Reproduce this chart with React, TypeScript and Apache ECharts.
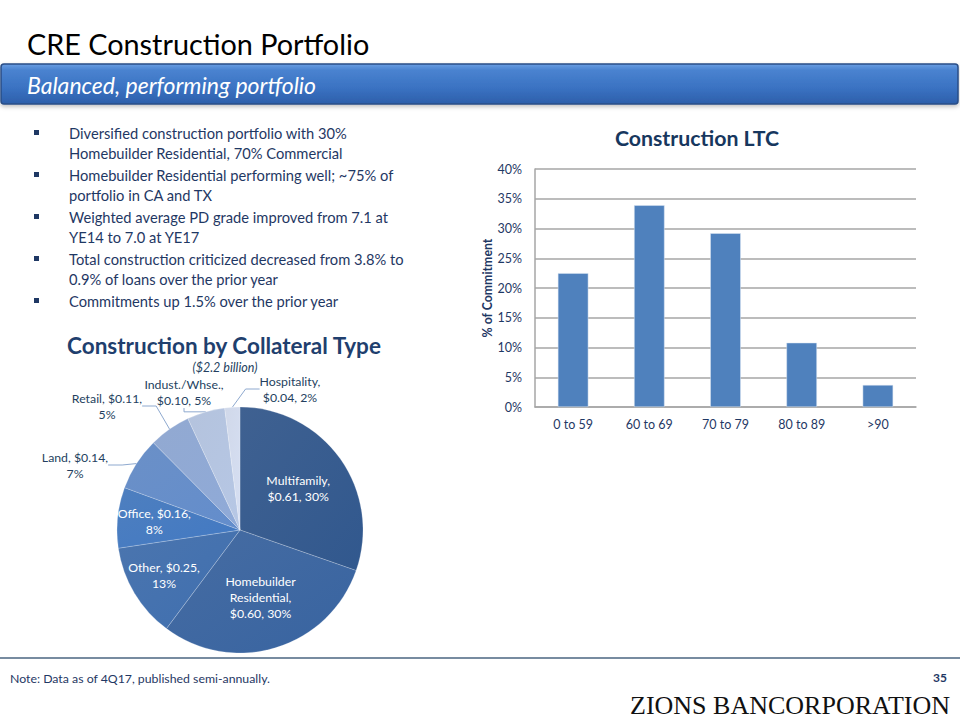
import React, { useEffect, useRef } from "react";
import * as echarts from "echarts";

const pageTitle = "CRE Construction Portfolio";
const bannerText = "Balanced, performing portfolio";
const bullets = [
  ["Diversified construction portfolio with 30%", "Homebuilder Residential, 70% Commercial"],
  ["Homebuilder Residential performing well; ~75% of", "portfolio in CA and TX"],
  ["Weighted average PD grade improved from 7.1 at", "YE14 to 7.0 at YE17"],
  ["Total construction criticized decreased from 3.8% to", "0.9% of loans over the prior year"],
  ["Commitments up 1.5% over the prior year"],
];

const pieTitle = "Construction by Collateral Type";
const pieSubtitle = "($2.2 billion)";
const pieNames = ["Multifamily", "Homebuilder\nResidential", "Other", "Office", "Land", "Retail", "Indust./Whse.", "Hospitality"];
const pieAmounts = [0.61, 0.6, 0.25, 0.16, 0.14, 0.11, 0.1, 0.04];
const piePercents = [30, 30, 13, 8, 7, 5, 5, 2];
const pieInside = [true, true, true, true, false, false, false, false];
const pieBreakAfterName = [true, true, false, false, false, false, true, true];
const pieColors = ["#2F5488", "#36609A", "#3C6AA8", "#3F74BA", "#5F87C3", "#89A2CE", "#AEBEDB", "#CCD5E8"];

const barTitle = "Construction LTC";
const barCategories = ["0 to 59", "60 to 69", "70 to 79", "80 to 89", ">90"];
const barValues = [22.5, 33.9, 29.2, 10.8, 3.7];
const yAxisName = "% of Commitment";

const noteText = "Note: Data as of 4Q17, published semi-annually.";
const pageNumber = "35";
const logoText = "ZIONS BANCORPORATION";

const FONT = "Lato, 'Open Sans', sans-serif";
const NAVY = "#1F3864";

// label layout helpers (positions, not data)
const PIE_CX = 240;
const PIE_CY = 530;
const PIE_R = 123;
const insideLabelRadius = [0.58, 0.57, 0.72, 0.7];
const outsideLabelPos: Record<number, [number, number]> = {
  4: [75, 465],
  5: [107, 406],
  6: [184, 392],
  7: [290, 389],
};

export default function App() {
  const ref = useRef<HTMLDivElement>(null);
  useEffect(() => {
    if (!ref.current) return;
    const chart = echarts.init(ref.current, null, { renderer: "svg" });

    const bulletGraphics: any[] = [];
    let y = 133;
    bullets.forEach((lines) => {
      bulletGraphics.push({
        type: "rect",
        shape: { x: 34, y: y - 3, width: 5, height: 5 },
        style: { fill: NAVY },
      });
      lines.forEach((ln) => {
        bulletGraphics.push({
          type: "text",
          x: 69,
          y,
          style: { text: ln, fill: NAVY, font: `14.7px ${FONT}`, textVerticalAlign: "middle" },
        });
        y += 20;
      });
      y += 2;
    });

    const total = pieAmounts.reduce((a, b) => a + b, 0);
    const midAngles: number[] = [];
    let acc = 0;
    pieAmounts.forEach((v) => {
      midAngles.push(((acc + v / 2) / total) * Math.PI * 2);
      acc += v;
    });

    const pieData = pieNames.map((n, i) => ({
      name: n,
      value: pieAmounts[i],
      itemStyle: {
        color: new echarts.graphic.LinearGradient(0, 0, 1, 1, [
          { offset: 0, color: echarts.color.lift(pieColors[i], 0.08) },
          { offset: 1, color: echarts.color.lift(pieColors[i], -0.05) },
        ]),
      },
      label: pieInside[i]
        ? { position: "inside", color: "#FFFFFF" }
        : { position: "outside", color: "#243F60" },
      labelLine: { show: !pieInside[i] },
    }));

    chart.setOption({
      animation: false,
      backgroundColor: "#FFFFFF",
      textStyle: { fontFamily: FONT },
      grid: { left: 535, right: 44, top: 169, bottom: 313, containLabel: false },
      xAxis: {
        type: "category",
        data: barCategories,
        axisTick: { show: false },
        axisLine: { lineStyle: { color: "#A6A6A6", width: 1.5 } },
        axisLabel: { color: NAVY, fontSize: 12.5, margin: 11, fontFamily: FONT },
      },
      yAxis: {
        type: "value",
        min: 0,
        max: 40,
        interval: 5,
        name: yAxisName,
        nameLocation: "middle",
        nameGap: 40,
        nameRotate: 90,
        nameTextStyle: { color: NAVY, fontWeight: "bold", fontSize: 12.3, fontFamily: FONT },
        axisLine: { show: true, lineStyle: { color: "#A6A6A6", width: 1.5 } },
        axisTick: { show: false },
        splitLine: { lineStyle: { color: "#A6A6A6", width: 1.5 } },
        axisLabel: { formatter: "{value}%", color: NAVY, fontSize: 12.5, margin: 13, fontFamily: FONT },
      },
      series: [
        {
          type: "bar",
          data: barValues,
          barWidth: "40%",
          itemStyle: { color: "#4F81BD", borderColor: "#DCE6F2", borderWidth: 0.5 },
        },
        {
          type: "pie",
          center: [PIE_CX, PIE_CY],
          radius: PIE_R,
          startAngle: 90,
          clockwise: true,
          data: pieData,
          itemStyle: { borderColor: "rgba(255,255,255,0.35)", borderWidth: 0.6 },
          label: {
            fontSize: 12.3,
            lineHeight: 16,
            align: "center",
            fontFamily: FONT,
            formatter: (p: any) => {
              const i = p.dataIndex;
              const amt = `$${pieAmounts[i].toFixed(2)}`;
              const pct = `${piePercents[i]}%`;
              return pieBreakAfterName[i]
                ? `${pieNames[i]},\n${amt}, ${pct}`
                : `${pieNames[i]}, ${amt},\n${pct}`;
            },
          },
          labelLine: { length: 12, length2: 14, lineStyle: { color: "#8EA9CF", width: 1 } },
          labelLayout: (p: any) => {
            const i = p.dataIndex;
            if (pieInside[i]) {
              const a = midAngles[i];
              const rr = PIE_R * insideLabelRadius[i];
              return {
                x: PIE_CX + rr * Math.sin(a),
                y: PIE_CY - rr * Math.cos(a),
                align: "center",
                verticalAlign: "middle",
              };
            }
            const pos = outsideLabelPos[i];
            return { x: pos[0], y: pos[1], align: "center", verticalAlign: "middle" };
          },
        },
      ],
      graphic: [
        {
          type: "text",
          x: 27,
          y: 44,
          style: { text: pageTitle, fill: "#000000", font: `28.8px ${FONT}`, textVerticalAlign: "middle" },
        },
        {
          type: "rect",
          shape: { x: 1, y: 64, width: 957, height: 40, r: 3 },
          style: {
            fill: new echarts.graphic.LinearGradient(0, 0, 0, 1, [
              { offset: 0, color: "#6A9EE2" },
              { offset: 0.15, color: "#4A83D0" },
              { offset: 0.6, color: "#3A72C2" },
              { offset: 1, color: "#2D5FAA" },
            ]),
            stroke: "#2A4E86",
            lineWidth: 1.5,
            shadowColor: "rgba(0,0,0,0.25)",
            shadowBlur: 4,
            shadowOffsetY: 2,
          },
        },
        {
          type: "text",
          x: 27,
          y: 85,
          style: {
            text: bannerText,
            fill: "#FFFFFF",
            font: `italic 23px ${FONT}`,
            textVerticalAlign: "middle",
          },
        },
        ...bulletGraphics,
        {
          type: "text",
          x: 224,
          y: 345,
          style: {
            text: pieTitle,
            fill: "#1F3F6E",
            font: `bold 22.5px ${FONT}`,
            textAlign: "center",
            textVerticalAlign: "middle",
          },
        },
        {
          type: "text",
          x: 225,
          y: 367,
          style: {
            text: pieSubtitle,
            fill: "#243F60",
            font: `italic 12.5px ${FONT}`,
            textAlign: "center",
            textVerticalAlign: "middle",
          },
        },
        {
          type: "text",
          x: 697,
          y: 138,
          style: {
            text: barTitle,
            fill: "#17375E",
            font: `bold 21.3px ${FONT}`,
            textAlign: "center",
            textVerticalAlign: "middle",
          },
        },
        {
          type: "line",
          shape: { x1: 0, y1: 658, x2: 960, y2: 658 },
          style: { stroke: "#4A6480", lineWidth: 1.5 },
        },
        {
          type: "text",
          x: 10,
          y: 678,
          style: { text: noteText, fill: NAVY, font: `12.3px ${FONT}`, textVerticalAlign: "middle" },
        },
        {
          type: "text",
          x: 947,
          y: 677,
          style: {
            text: pageNumber,
            fill: NAVY,
            font: `bold 12px ${FONT}`,
            textAlign: "right",
            textVerticalAlign: "middle",
          },
        },
        {
          type: "text",
          x: 950,
          y: 705,
          style: {
            text: logoText,
            fill: "#111111",
            font: `26px 'Liberation Serif', 'DejaVu Serif', serif`,
            textAlign: "right",
            textVerticalAlign: "middle",
          },
        },
      ],
    });
    return () => chart.dispose();
  }, []);
  return <div ref={ref} style={{ position: "fixed", left: 0, top: 0, width: 960, height: 720 }} />;
}
